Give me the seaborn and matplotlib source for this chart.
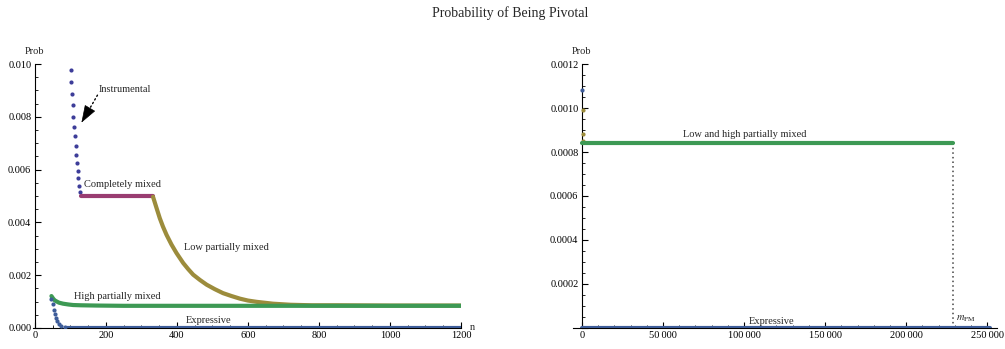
import matplotlib
matplotlib.use("Agg")
import matplotlib.pyplot as plt
from matplotlib.ticker import MultipleLocator, FuncFormatter
import seaborn as sns

# ---------------- data ----------------
# Left panel: n from 0 to 1200
instr_n = [101, 103, 105, 107, 109, 111, 113, 115, 117, 119, 121, 123, 125, 127]
instr_p = [0.00979, 0.00931, 0.00886, 0.00843, 0.00801, 0.00763, 0.00726,
           0.00690, 0.00657, 0.00626, 0.00596, 0.00567, 0.00539, 0.00515]

comp_n = [129, 333]
comp_p = [0.00500, 0.00500]

low_n = [333, 343, 352, 361, 371, 385, 399, 418, 432, 446, 465, 484, 507,
         530, 554, 578, 600, 625, 671, 720, 780, 850, 1000, 1200]
low_p = [0.00497, 0.00454, 0.00416, 0.00384, 0.00353, 0.00316, 0.00284,
         0.00246, 0.00223, 0.00202, 0.00182, 0.00164, 0.00147, 0.00132,
         0.00121, 0.00111, 0.00104, 0.00099, 0.00092, 0.00088, 0.00086,
         0.00086, 0.00085, 0.00085]

high_n = [47, 52, 56, 61, 68, 80, 95, 108, 130, 174, 250, 1200]
high_p = [0.00121, 0.00111, 0.00105, 0.00101, 0.00096, 0.00092, 0.00089,
          0.00087, 0.00086, 0.00085, 0.00084, 0.00084]

expr_n = [47, 51, 54, 56, 59, 63, 68, 75, 84]
expr_p = [0.00108, 0.00090, 0.00070, 0.00052, 0.00038, 0.00027, 0.00017,
          0.00009, 0.00004]
expr_flat_n = [90, 1200]
expr_flat_p = [0.0, 0.0]

# Right panel: n from 0 to ~250000
r_high_x = [0, 229000]
r_high_p = [0.00084, 0.00084]
r_low_x = [625, 720, 850]
r_low_p = [0.00099, 0.00088, 0.00085]
r_expr_dot_x = [47]
r_expr_dot_p = [0.00108]
r_expr_x = [100, 252000]
r_expr_p = [0.0, 0.0]
m_pm = 229000
m_pm_p = [0.0, 0.00084]

# ---------------- style ----------------
sns.set_theme(style="ticks")
plt.rcParams["font.family"] = ["Liberation Serif", "DejaVu Serif"]
plt.rcParams["mathtext.fontset"] = "stix"

C_INSTR = "#3D3D99"
C_COMP = "#993D71"
C_LOW = "#9C8C3C"
C_HIGH = "#3D9954"
C_EXPR = "#3D5C99"
FS = 7.5

fig = plt.figure(figsize=(10.05, 3.49), dpi=100)
ax1 = fig.add_axes([0.0328, 0.0602, 0.4259, 0.7564])
ax2 = fig.add_axes([0.5701, 0.0602, 0.4219, 0.7564])

LW = 3.0
# ---- left panel ----
sns.scatterplot(x=instr_n, y=instr_p, color=C_INSTR, s=9, linewidth=0, ax=ax1, zorder=3)
sns.lineplot(x=comp_n, y=comp_p, color=C_COMP, lw=LW, ax=ax1, zorder=3)
sns.lineplot(x=low_n, y=low_p, color=C_LOW, lw=LW, ax=ax1, zorder=3,
             solid_joinstyle="round")
sns.lineplot(x=high_n, y=high_p, color=C_HIGH, lw=LW, ax=ax1, zorder=4,
             solid_joinstyle="round")
sns.scatterplot(x=expr_n, y=expr_p, color=C_EXPR, s=9, linewidth=0, ax=ax1, zorder=5)
sns.lineplot(x=expr_flat_n, y=expr_flat_p, color=C_EXPR, lw=3.0, ax=ax1, zorder=5)

ax1.set_xlim(-5, 1200)
ax1.set_ylim(0, 0.010)
ax1.xaxis.set_major_locator(MultipleLocator(200))
ax1.xaxis.set_minor_locator(MultipleLocator(50))
ax1.yaxis.set_major_locator(MultipleLocator(0.002))
ax1.yaxis.set_minor_locator(MultipleLocator(0.0005))
ax1.yaxis.set_major_formatter(FuncFormatter(lambda v, p: f"{v:.3f}"))
ax1.xaxis.set_major_formatter(FuncFormatter(lambda v, p: f"{int(round(v))}"))

ax1.text(180, 0.00904, "Instrumental", fontsize=FS, ha="left", va="center")
# dotted shaft
ax1.annotate("", xy=(153, 0.00827), xytext=(176.6, 0.00882),
             arrowprops=dict(arrowstyle="-", linestyle=(0, (1, 2)), lw=1.0,
                             color="black", shrinkA=0, shrinkB=0))
# solid arrow head
ax1.annotate("", xy=(131.5, 0.00778), xytext=(153, 0.00827),
             arrowprops=dict(arrowstyle="-|>,head_length=0.8,head_width=0.28",
                             lw=0.5, color="black", mutation_scale=14,
                             shrinkA=0, shrinkB=0))
ax1.text(138.9, 0.00542, "Completely mixed", fontsize=FS, ha="left", va="center")
ax1.text(420.6, 0.00305, "Low partially mixed", fontsize=FS, ha="left", va="center")
ax1.text(109.9, 0.00118, "High partially mixed", fontsize=FS, ha="left", va="center")
ax1.text(489.6, 0.00027, "Expressive", fontsize=FS, ha="center", va="center")

# ---- right panel ----
sns.lineplot(x=r_high_x, y=r_high_p, color=C_HIGH, lw=LW, ax=ax2, zorder=4)
sns.scatterplot(x=r_low_x, y=r_low_p, color=C_LOW, s=9, linewidth=0, ax=ax2, zorder=3)
sns.scatterplot(x=r_expr_dot_x, y=r_expr_dot_p, color=C_EXPR, s=9, linewidth=0, ax=ax2, zorder=5)
sns.lineplot(x=r_expr_x, y=r_expr_p, color=C_EXPR, lw=3.0, ax=ax2, zorder=5)
ax2.plot([m_pm, m_pm], m_pm_p, color="#444444", lw=1.1, linestyle=(0, (1, 2)), zorder=2)

ax2.set_xlim(-5550, 256000)
ax2.set_ylim(0, 0.0012)
ax2.xaxis.set_major_locator(MultipleLocator(50000))
ax2.xaxis.set_minor_locator(MultipleLocator(10000))
ax2.yaxis.set_major_locator(MultipleLocator(0.0002))
ax2.yaxis.set_minor_locator(MultipleLocator(0.00005))
ax2.xaxis.set_major_formatter(FuncFormatter(
    lambda v, p: f"{int(round(v)):,}".replace(",", "\u2009")))
ax2.yaxis.set_major_formatter(FuncFormatter(
    lambda v, p: "" if abs(v) < 1e-9 else f"{v:.4f}"))

ax2.text(100400, 0.00088, "Low and high partially mixed", fontsize=FS, ha="center", va="center")
ax2.text(116700, 0.000029, "Expressive", fontsize=FS, ha="center", va="center")
ax2.text(230900, 0.000041, r"$m_{\mathrm{PM}}$", fontsize=FS, ha="left", va="center")

for ax in (ax1, ax2):
    for s in ("top", "right"):
        ax.spines[s].set_visible(False)
    ax.spines["left"].set_position(("data", 0))
    for s in ("left", "bottom"):
        ax.spines[s].set_color("black")
        ax.spines[s].set_linewidth(0.8)
    ax.tick_params(which="major", direction="in", length=4.2, width=0.8,
                   colors="black", labelsize=FS, pad=2.5)
    ax.tick_params(which="minor", direction="in", length=2.3, width=0.6, colors="black")
    ax.set_xlabel("")
    ax.set_ylabel("")
    if ax.get_legend():
        ax.get_legend().remove()

fig.text(34.5 / 1005, 1 - 52 / 349, "Prob", fontsize=FS, ha="center", va="center")
fig.text(581 / 1005, 1 - 52 / 349, "Prob", fontsize=FS, ha="center", va="center")
fig.text(472 / 1005, 1 - 327.5 / 349, "n", fontsize=FS, ha="center", va="center")
fig.text(510.5 / 1005, 1 - 13 / 349, "Probability of Being Pivotal", fontsize=10,
         ha="center", va="center")

fig.savefig("out.png", dpi=100, facecolor="white")
